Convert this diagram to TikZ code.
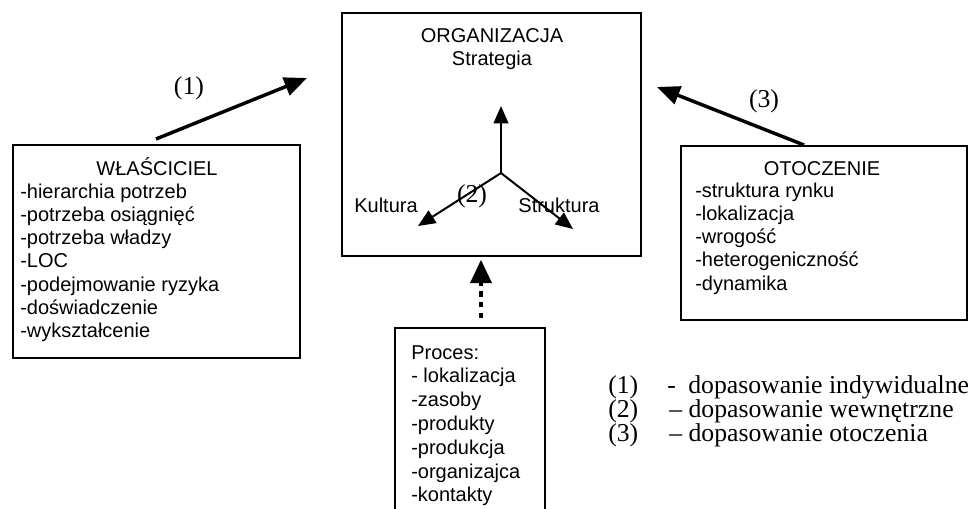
\documentclass[tikz,border=0pt]{standalone}
\usepackage{fontspec}
\setmainfont{Liberation Serif}
\setsansfont{Liberation Sans}
\usetikzlibrary{arrows.meta}
\begin{document}
\begin{tikzpicture}[x=0.75pt,y=-0.75pt,
  frame/.style={draw=black,line width=1pt},
  txt/.style={font=\sffamily\fontsize{15}{17}\selectfont,inner sep=0pt,anchor=base west},
  ttl/.style={font=\sffamily\fontsize{15}{17}\selectfont,inner sep=0pt,anchor=base},
  serif/.style={font=\rmfamily\fontsize{19.3}{22}\selectfont,inner sep=0pt},
  bigarrow/.style={line width=2.6pt,-{Triangle[length=17pt,width=14pt]}},
  smallarrow/.style={line width=1.5pt,-{Triangle[length=13pt,width=11pt]}}]
\useasboundingbox (0,0) rectangle (975,508);
\fill[white] (0,0) rectangle (975,508);

% ORGANIZACJA
\draw[frame] (342,13) rectangle (641,256);
\node[ttl] (org) at (492,42) {ORGANIZACJA};
\node[ttl] (strat) at (492,65) {Strategia};
\coordinate (hub) at (501,173);
\coordinate (up) at (501,106);
\coordinate (kul) at (418,226);
\coordinate (str) at (573,229);
\draw[smallarrow] (hub) -- (up);
\draw[smallarrow] (hub) -- (kul);
\draw[smallarrow] (hub) -- (str);
\node[ttl] (kultura) at (386,212) {Kultura};
\node[ttl] (struktura) at (559,212) {Struktura};
\node[serif,anchor=base] (two) at (472,202) {(2)};

% WŁAŚCICIEL
\draw[frame] (13,145) rectangle (300,358);
\node[ttl] (wl) at (157,175) {WŁAŚCICIEL};
\foreach \t [count=\i from 0] in {-hierarchia potrzeb,-potrzeba osiągnięć,-potrzeba władzy,-LOC,-podejmowanie ryzyka,-doświadczenie,-wykształcenie}
  \node[txt] (wl\i) at (20,198+23.3*\i) {\t};

% OTOCZENIE
\draw[frame] (681,146) rectangle (967,320);
\node[ttl] (ot) at (822,175) {OTOCZENIE};
\foreach \t [count=\i from 0] in {-struktura rynku,-lokalizacja,-wrogość,-heterogeniczność,-dynamika}
  \node[txt] (ot\i) at (695,197+23.3*\i) {\t};

% Proces
\draw[frame] (395,514) -- (395,328) -- (545,328) -- (545,514);
\node[txt] (pr) at (411,359) {Proces:};
\foreach \t [count=\i from 1] in {- lokalizacja,-zasoby,-produkty,-produkcja,-organizajca,-kontakty}
  \node[txt] (pr\i) at (411,359+23.8*\i) {\t};

% links
\coordinate (a1s) at (156,139);
\coordinate (a1e) at (307,78);
\draw[bigarrow] (a1s) -- (a1e);
\node[serif,anchor=base] (one) at (189,94) {(1)};
\coordinate (a3s) at (804,145);
\coordinate (a3e) at (657,87);
\draw[bigarrow] (a3s) -- (a3e);
\node[serif,anchor=base] (three) at (764,107) {(3)};
\coordinate (dots) at (481,318);
\coordinate (dote) at (481,260);
\draw[line width=3pt,dash pattern=on 4pt off 4pt] (dots) -- (481,283);
\fill (dote) -- (470,283) -- (492,283) -- cycle;

% legend
\foreach \n/\y in {1/393,2/417,3/441}
  \node[serif,anchor=base west] (n\n) at (608,\y) {(\n)};
\node[serif,anchor=base west] (l1h) at (667,393) {-};
\node[serif,anchor=base west] (l1) at (688,393) {dopasowanie indywidualne};
\node[serif,anchor=base west] (l2) at (669,417) {– dopasowanie wewnętrzne};
\node[serif,anchor=base west] (l3) at (669,441) {– dopasowanie otoczenia};
\end{tikzpicture}
\end{document}
